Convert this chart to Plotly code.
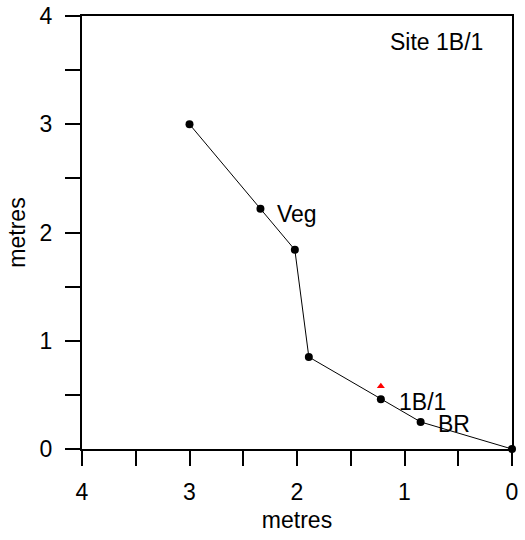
import plotly.graph_objects as go

# Profile data (metres)
dist = [3.0, 2.34, 2.02, 1.89, 1.22, 0.85, 0.0]
height = [3.0, 2.22, 1.84, 0.85, 0.46, 0.25, 0.0]

# Red marker (site position)
site_x = [1.22]
site_y = [0.58]

# Point labels
label_text = ["Veg", "1B/1", "BR"]
label_x = [2.34, 1.22, 0.85]
label_y = [2.22, 0.46, 0.25]

tick_vals = [0, 0.5, 1, 1.5, 2, 2.5, 3, 3.5, 4]
tick_text = ["0", "", "1", "", "2", "", "3", "", "4"]

FONT = "Liberation Sans, Arial, sans-serif"
FS = 23

fig = go.Figure()
fig.add_trace(go.Scatter(
    x=dist, y=height, mode="lines+markers",
    line=dict(color="black", width=1),
    marker=dict(color="black", size=8),
    cliponaxis=False, showlegend=False,
))
fig.add_trace(go.Scatter(
    x=site_x, y=site_y, mode="markers",
    marker=dict(color="red", size=7, symbol="triangle-up"),
    showlegend=False,
))

shifts = [(15, -5), (16, -3), (15, -2)]
for t, x, y, (dx, dy) in zip(label_text, label_x, label_y, shifts):
    fig.add_annotation(x=x, y=y, text=t, showarrow=False, xanchor="left",
                       yanchor="middle", xshift=dx, yshift=dy,
                       font=dict(size=FS, color="black", family=FONT))

fig.add_annotation(x=0.937, y=0.94, xref="paper", yref="paper", text="Site 1B/1",
                   showarrow=False, xanchor="right", yanchor="middle",
                   font=dict(size=FS, color="black", family=FONT))

axis_common = dict(
    showgrid=False, zeroline=False, showline=True, linecolor="black", linewidth=2,
    mirror=True, ticks="outside", ticklen=15, tickwidth=2, tickcolor="black",
    tickvals=tick_vals, ticktext=tick_text, automargin=False,
    tickfont=dict(size=FS, color="black", family=FONT),
)

fig.update_xaxes(range=[4, 0], title=dict(text="metres", font=dict(size=FS, color="black", family=FONT), standoff=8),
                 ticklabelstandoff=6, **axis_common)
fig.update_yaxes(range=[0, 4], title=dict(text="metres", font=dict(size=FS, color="black", family=FONT), standoff=8),
                 ticklabelstandoff=8, **axis_common)

fig.update_layout(
    width=525, height=540,
    margin=dict(l=82, r=13, t=16, b=91),
    plot_bgcolor="white", paper_bgcolor="white",
    font=dict(family=FONT, size=FS, color="black"),
)

fig.write_html("out.html", config={"displayModeBar": False},
               post_script="document.body.style.margin='0';")
